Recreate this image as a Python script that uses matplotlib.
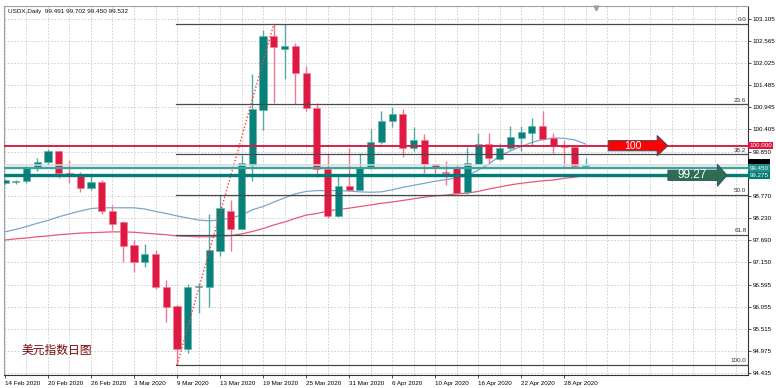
import numpy as np
import matplotlib.pyplot as plt
from matplotlib.patches import Polygon
from matplotlib.transforms import blended_transform_factory

plt.rcParams['font.family'] = ['Liberation Sans', 'Noto Sans CJK SC', 'DejaVu Sans']

# daily bars, 14 Feb 2020 .. 30 Apr 2020
dates = ['2020-02-14', '2020-02-17', '2020-02-18', '2020-02-19', '2020-02-20', '2020-02-21',
         '2020-02-24', '2020-02-25', '2020-02-26', '2020-02-27', '2020-02-28',
         '2020-03-02', '2020-03-03', '2020-03-04', '2020-03-05', '2020-03-06',
         '2020-03-09', '2020-03-10', '2020-03-11', '2020-03-12', '2020-03-13',
         '2020-03-16', '2020-03-17', '2020-03-18', '2020-03-19', '2020-03-20',
         '2020-03-23', '2020-03-24', '2020-03-25', '2020-03-26', '2020-03-27',
         '2020-03-30', '2020-03-31', '2020-04-01', '2020-04-02', '2020-04-03',
         '2020-04-06', '2020-04-07', '2020-04-08', '2020-04-09', '2020-04-10',
         '2020-04-13', '2020-04-14', '2020-04-15', '2020-04-16', '2020-04-17',
         '2020-04-20', '2020-04-21', '2020-04-22', '2020-04-23', '2020-04-24',
         '2020-04-27', '2020-04-28', '2020-04-29', '2020-04-30']

opens = [99.09, 99.10, 99.14, 99.46, 99.60, 99.87, 99.34, 99.28, 98.96, 99.12,
         98.40, 98.12, 97.57, 97.15, 97.35, 96.55, 96.08, 95.02, 96.53, 96.55,
         97.42, 98.41, 97.96, 99.53, 100.88, 102.69, 102.36, 102.44, 101.78, 100.93,
         99.42, 98.28, 99.02, 98.92, 99.45, 100.08, 100.61, 100.77, 99.94, 100.13,
         99.54, 99.34, 99.45, 98.87, 99.55, 100.04, 99.68, 99.94, 100.20, 100.31,
         100.49, 100.18, 100.02, 99.97, 99.491]
highs = [99.19, 99.16, 99.50, 99.69, 99.91, 99.88, 99.65, 99.36, 99.25, 99.16,
         98.55, 98.15, 97.69, 97.59, 97.44, 96.70, 96.09, 96.61, 96.63, 98.33,
         98.79, 98.67, 99.78, 101.75, 102.84, 102.98, 102.97, 102.52, 101.94, 101.04,
         99.82, 99.26, 99.94, 99.83, 100.40, 100.84, 100.94, 100.91, 100.45, 100.29,
         99.55, 99.63, 99.52, 99.97, 100.30, 100.30, 100.06, 100.48, 100.48, 100.69,
         100.85, 100.31, 100.15, 100.02, 99.702]
lows = [99.07, 99.05, 99.09, 99.37, 99.53, 99.21, 99.09, 98.87, 98.92, 98.33,
        97.94, 97.15, 96.91, 97.03, 96.50, 95.68, 94.63, 94.93, 95.90, 96.04,
        97.31, 97.42, 97.95, 99.14, 100.39, 101.05, 101.63, 101.02, 100.84, 99.23,
        98.24, 98.26, 98.89, 98.91, 99.43, 100.04, 100.45, 99.72, 99.86, 99.34,
        99.34, 99.04, 98.83, 98.82, 99.54, 99.58, 99.64, 99.90, 99.87, 99.99,
        100.14, 99.82, 99.45, 99.45, 99.450]
closes = [99.16, 99.14, 99.46, 99.60, 99.87, 99.32, 99.30, 98.96, 99.12, 98.40,
          98.08, 97.55, 97.15, 97.35, 96.53, 96.06, 95.02, 96.53, 96.57, 97.45,
          98.47, 97.96, 99.57, 100.89, 102.69, 102.41, 102.44, 101.78, 100.92, 99.42,
          98.28, 99.02, 98.92, 99.46, 100.10, 100.61, 100.77, 99.95, 100.13, 99.54,
          99.47, 99.32, 98.85, 99.57, 100.04, 99.69, 99.95, 100.22, 100.33, 100.48,
          100.17, 100.02, 99.96, 99.51, 99.532]

# moving averages
ma_fast = [97.89, 97.95, 98.02, 98.10, 98.17, 98.26, 98.33, 98.40, 98.46, 98.48,
           98.48, 98.48, 98.48, 98.45, 98.39, 98.34, 98.28, 98.23, 98.18, 98.16,
           98.18, 98.23, 98.30, 98.43, 98.51, 98.62, 98.72, 98.82, 98.88, 98.90,
           98.90, 98.90, 98.89, 98.87, 98.86, 98.87, 98.92, 98.98, 99.03, 99.08,
           99.13, 99.17, 99.21, 99.27, 99.40, 99.55, 99.75, 99.87, 99.98, 100.08,
           100.15, 100.19, 100.18, 100.14, 100.04]
ma_slow = [97.69, 97.72, 97.74, 97.77, 97.79, 97.82, 97.84, 97.86, 97.87, 97.88,
           97.89, 97.89, 97.88, 97.86, 97.84, 97.82, 97.79, 97.78, 97.77, 97.77,
           97.78, 97.80, 97.84, 97.90, 97.97, 98.06, 98.13, 98.22, 98.30, 98.34,
           98.40, 98.44, 98.47, 98.51, 98.55, 98.59, 98.62, 98.66, 98.70, 98.74,
           98.77, 98.79, 98.82, 98.84, 98.88, 98.94, 98.99, 99.04, 99.08, 99.11,
           99.14, 99.16, 99.20, 99.23, 99.27]

tick_idx = [0, 4, 8, 12, 16, 20, 24, 28, 32, 36, 40, 44, 48, 52]
tick_labels = ['14 Feb 2020', '20 Feb 2020', '26 Feb 2020', '3 Mar 2020', '9 Mar 2020',
               '13 Mar 2020', '19 Mar 2020', '25 Mar 2020', '31 Mar 2020', '6 Apr 2020',
               '10 Apr 2020', '16 Apr 2020', '22 Apr 2020', '28 Apr 2020']
price_ticks = [103.105, 102.565, 102.025, 101.485, 100.945, 100.405, 99.850,
               98.770, 98.230, 97.690, 97.150, 96.595, 96.055, 95.515, 94.975, 94.435]
hidden_tick = 99.310

fib_levels = [0.0, 23.6, 38.2, 50.0, 61.8, 100.0]
fib_high = 102.98
fib_low = 94.63
fib_from, fib_to = 16, 25   # 9 Mar low -> 20 Mar high

level_100 = 100.0
level_low = 99.450
level_ma = 99.275
level_bid = 99.532
arrow_100 = '100'
arrow_ma = '99.27'

teal = '#08817b'
teal_wick = '#55aaa5'
red = '#de1a42'
red_wick = '#ee7890'

fig = plt.figure(figsize=(7.76, 3.88), dpi=100)
ax = fig.add_axes([4 / 776, 13 / 388, 744 / 776, 369 / 388])

x = np.arange(len(dates))
o = np.array(opens); c = np.array(closes)
up = c >= o
bottom = np.minimum(o, c)
height = np.maximum(np.abs(c - o), 0.03)

# grid
for i in range(0, 70, 2):
    ax.axvline(i, color='#c9c9c9', lw=0.6, ls=(0, (2, 2)), zorder=0)
for p in price_ticks + [hidden_tick]:
    ax.axhline(p, color='#c9c9c9', lw=0.6, ls=(0, (2, 2)), zorder=0)

# moving averages
ax.plot(x, ma_fast, color='#7aa6cf', lw=0.9, zorder=2)
ax.plot(x, ma_slow, color='#e8587a', lw=0.9, zorder=2)

# candles
ax.vlines(x[up], np.array(lows)[up], np.array(highs)[up], color=teal_wick, lw=1, zorder=3)
ax.vlines(x[~up], np.array(lows)[~up], np.array(highs)[~up], color=red_wick, lw=1, zorder=3)
ax.bar(x[up], height[up], bottom=bottom[up], width=0.66, color=teal,
       edgecolor='#5fb0aa', linewidth=0.4, zorder=4)
ax.bar(x[~up], height[~up], bottom=bottom[~up], width=0.66, color=red,
       edgecolor='#f07a92', linewidth=0.4, zorder=4)

# fibonacci retracement
for lv in fib_levels:
    p = fib_high - (fib_high - fib_low) * lv / 100
    ax.plot([fib_from - 0.1, 69.2], [p, p], color='#4a4a4a', lw=0.9, zorder=5)
    ax.annotate(f'{lv:.1f}', (68.95, p), xytext=(0, 1.2), textcoords='offset points',
                ha='right', va='bottom', fontsize=4.5, color='#333333', zorder=6)
ax.plot([fib_from, fib_to], [fib_low, fib_high], color='#ff3b3b', lw=1, ls=(0, (1, 1.5)), zorder=5)

# horizontal levels
ax.axhline(level_100, color='#d81e48', lw=1.4, zorder=5)
ax.axhline(level_bid, color='#dadada', lw=1.1, zorder=5)
ax.axhline(level_low, color='#3aa39c', lw=1.7, zorder=5)
ax.axhline(level_ma, color='#007d77', lw=2.4, zorder=5)


def arrow(x0, x1, x2, y, hb, hh, fc, label, fs):
    pts = [(x0, y - hb), (x1, y - hb), (x1, y - hh), (x2, y), (x1, y + hh), (x1, y + hb), (x0, y + hb)]
    ax.add_patch(Polygon(pts, closed=True, fc=fc, ec='#3d4b6b', lw=0.7, zorder=7))
    ax.text((x0 + x1) / 2, y, label, color='white', fontsize=fs, ha='center', va='center', zorder=8)


arrow(56.1, 60.65, 61.65, level_100, 0.125, 0.25, '#ff0000', arrow_100, 7.5)
arrow(61.65, 66.25, 67.15, level_ma, 0.125, 0.27, '#2c6e50', arrow_ma, 8.5)

# chart shift marker
ax.plot([55], [103.38], marker='v', ms=3.5, color='#a0a0a0', zorder=6, clip_on=False)

ax.set_xlim(-0.09, 69.1)
ax.set_ylim(94.386, 103.42)

ax.set_xticks(tick_idx)
ax.set_xticklabels(tick_labels, ha='left', fontsize=4.5)
ax.tick_params(axis='x', length=2.5, width=0.6, pad=1.5, color='#333333')
ax.yaxis.tick_right()
ax.set_yticks(price_ticks)
ax.set_yticklabels([f'{p:.3f}' for p in price_ticks], fontsize=4.5)
ax.tick_params(axis='y', length=2, width=0.6, pad=1.5, color='#333333')

for s in ['left', 'top']:
    ax.spines[s].set_color('#a0a0a0')
for s in ['right', 'bottom']:
    ax.spines[s].set_color('#333333')
for s in ax.spines.values():
    s.set_linewidth(0.8)

# price labels on the right scale
tr = blended_transform_factory(ax.transAxes, ax.transData)
ax.text(1.002, level_100, '100.000', transform=tr, fontsize=4.5, color='white', va='center',
        ha='left', bbox=dict(boxstyle='square,pad=0.2', fc='#e0143c', ec='none'), zorder=9)
ax.text(1.002, level_bid + 0.04, '99.532', transform=tr, fontsize=4.5, color='#000000', va='center',
        ha='left', bbox=dict(boxstyle='square,pad=0.2', fc='#000000', ec='none'), zorder=9)
ax.text(1.002, level_low, '99.450', transform=tr, fontsize=4.5, color='white', va='center',
        ha='left', bbox=dict(boxstyle='square,pad=0.2', fc='#1e8f88', ec='none'), zorder=9)
ax.text(1.002, level_ma, '99.275', transform=tr, fontsize=4.5, color='white', va='center',
        ha='left', bbox=dict(boxstyle='square,pad=0.2', fc='#007d77', ec='none'), zorder=9)

ax.text(0.0055, 0.986, f'USDX,Daily  {opens[-1]:.3f} {highs[-1]:.3f} {lows[-1]:.3f} {closes[-1]:.3f}',
        transform=ax.transAxes, fontsize=4.6, color='#111111', va='center', ha='left')
ax.text(0.024, 0.068, '美元指数日图', transform=ax.transAxes, fontsize=8.5, color='#7a0a0a',
        va='center', ha='left', family=['Noto Sans CJK SC', 'DejaVu Sans'])

fig.savefig('out.png', dpi=100)
